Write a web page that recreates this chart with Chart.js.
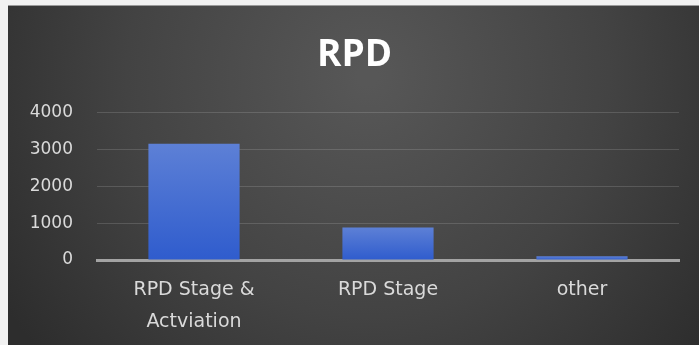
<!DOCTYPE html>
<html>
<head>
<meta charset="utf-8">
<script src="https://cdn.jsdelivr.net/npm/chart.js@4/dist/chart.umd.min.js"></script>
<style>
  html, body { margin: 0; padding: 0; background: #f1f1f1; width: 699px; height: 345px; overflow: hidden; }
  #panel { position: absolute; left: 8px; top: 5px; width: 691px; height: 340px; border-top: 1px solid #9a9a9a; }
  #c { display: block; }
</style>
</head>
<body>
<div id="panel"><canvas id="c" width="691" height="339"></canvas></div>
<script>
// Chart data
const categories = [["RPD Stage &", "Actviation"], "RPD Stage", "other"];
const values = [3150, 880, 100];
const yTicks = [0, 1000, 2000, 3000, 4000];

// Dark radial background behind the whole chart
const panelBackground = {
  id: 'panelBackground',
  beforeDraw(chart) {
    const { ctx, width, height } = chart;
    ctx.save();
    const g = ctx.createRadialGradient(360, 70, 10, 360, 70, 430);
    g.addColorStop(0, '#575757');
    g.addColorStop(0.55, '#434343');
    g.addColorStop(1, '#2d2d2d');
    ctx.fillStyle = g;
    ctx.fillRect(0, 0, width, height);
    ctx.restore();
  }
};

// Per-bar vertical blue gradient
function barFill(context) {
  const chart = context.chart;
  const y = chart.scales.y;
  if (!y || !chart.chartArea) return '#4472c4';
  const v = context.parsed ? context.parsed.y : values[context.dataIndex];
  const top = y.getPixelForValue(v);
  const base = y.getPixelForValue(0);
  if (!isFinite(top) || !isFinite(base) || top === base) return '#4a74d4';
  const g = chart.ctx.createLinearGradient(0, top, 0, base);
  g.addColorStop(0, '#5d80d6');
  g.addColorStop(1, '#2f5ccd');
  return g;
}

new Chart(document.getElementById('c'), {
  type: 'bar',
  data: {
    labels: categories,
    datasets: [{
      label: 'RPD',
      data: values,
      backgroundColor: barFill,
      borderWidth: 0,
      categoryPercentage: 0.94,
      barPercentage: 0.5
    }]
  },
  plugins: [panelBackground],
  options: {
    responsive: false,
    animation: false,
    layout: { padding: { left: 22, right: 20, top: 0, bottom: 0 } },
    plugins: {
      legend: { display: false },
      tooltip: { enabled: false },
      title: {
        display: true,
        text: 'RPD',
        color: '#ffffff',
        font: { family: '"Open Sans", sans-serif', size: 37, weight: 'bold', lineHeight: 1.2 },
        padding: { top: 27, bottom: 35 }
      }
    },
    scales: {
      x: {
        grid: { display: false, drawTicks: false },
        border: { display: true, color: '#a3a3a3', width: 3 },
        ticks: {
          color: '#dadada',
          font: { family: '"DejaVu Sans", sans-serif', size: 19, lineHeight: 1.7 },
          padding: 14,
          maxRotation: 0,
          autoSkip: false
        },
        afterFit(scale) { scale.height = 85; }
      },
      y: {
        min: 0,
        max: 4000,
        afterBuildTicks(scale) { scale.ticks = yTicks.map(v => ({ value: v })); },
        grid: { color: 'rgba(255,255,255,0.14)', lineWidth: 1, drawTicks: false },
        border: { display: false },
        ticks: {
          color: '#dadada',
          font: { family: '"DejaVu Sans", sans-serif', size: 17 },
          padding: 24,
          callback: (v) => String(v)
        },
        afterFit(scale) { scale.width = 67; }
      }
    }
  }
});
</script>
</body>
</html>
